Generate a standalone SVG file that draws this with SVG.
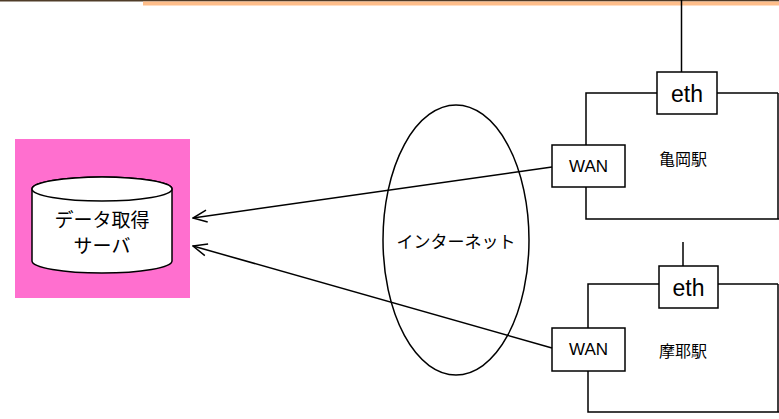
<svg xmlns="http://www.w3.org/2000/svg" width="779" height="419" viewBox="0 0 779 419">
<style>
.ln{fill:none;stroke:#000;stroke-width:1.5}
.bx{fill:#fff;stroke:#000;stroke-width:1.5}
.t{font-family:"Liberation Sans","Noto Sans CJK JP",sans-serif;fill:#000;text-anchor:middle}
</style>
<defs>
<marker id="ah" markerWidth="16" markerHeight="14" refX="15" refY="7" orient="auto" markerUnits="userSpaceOnUse">
<path d="M1,1 L15,7 L1,13" fill="none" stroke="#000" stroke-width="1.5"/>
</marker>
</defs>
<rect width="779" height="419" fill="#fff"/>
<rect x="0" y="0" width="779" height="1.5" fill="#4f3c29"/>
<rect x="143" y="1.5" width="636" height="4" fill="#ffbe8a"/>
<g id="server">
<rect x="15" y="139" width="175" height="159" fill="#ff6fcf"/>
<path class="bx" d="M32,189 L32,261 A70,12 0 0 0 172,261 L172,189 A70,12 0 0 0 32,189 Z"/>
<ellipse class="bx" cx="102" cy="189" rx="70" ry="12"/>
<text class="t" x="102" y="227" font-size="19">データ取得</text>
<text class="t" x="102" y="253" font-size="19">サーバ</text>
</g>
<g id="internet">
<ellipse class="ln" cx="456" cy="240" rx="73" ry="135"/>
<text class="t" x="456" y="248" font-size="17">インターネット</text>
</g>
<g id="kameoka">
<line class="ln" x1="681.5" y1="0" x2="681.5" y2="72"/>
<polyline class="ln" points="657,93 586,93 586,219 779,219"/>
<line class="ln" x1="717" y1="93" x2="778" y2="93"/>
<line class="ln" x1="778" y1="93" x2="778" y2="219"/>
<rect class="bx" x="657" y="72" width="60" height="42"/>
<text class="t" x="687" y="102" font-size="23">eth</text>
<rect class="bx" x="552" y="145" width="73" height="42"/>
<text class="t" x="588.5" y="172" font-size="17">WAN</text>
<text class="t" x="683" y="165" font-size="16">亀岡駅</text>
</g>
<g id="maya">
<line class="ln" x1="683" y1="242" x2="683" y2="266"/>
<polyline class="ln" points="659,284 588,284 588,412 779,412"/>
<line class="ln" x1="718" y1="284" x2="778" y2="284"/>
<line class="ln" x1="778" y1="284" x2="778" y2="412"/>
<rect class="bx" x="659" y="266" width="59" height="42"/>
<text class="t" x="688.5" y="296" font-size="23">eth</text>
<rect class="bx" x="552" y="328" width="73" height="43"/>
<text class="t" x="588.5" y="355" font-size="17">WAN</text>
<text class="t" x="683" y="357" font-size="16">摩耶駅</text>
</g>
<g id="connectors">
<line class="ln" x1="552" y1="167" x2="193" y2="218" marker-end="url(#ah)"/>
<line class="ln" x1="552" y1="348" x2="193" y2="246" marker-end="url(#ah)"/>
</g>
</svg>
